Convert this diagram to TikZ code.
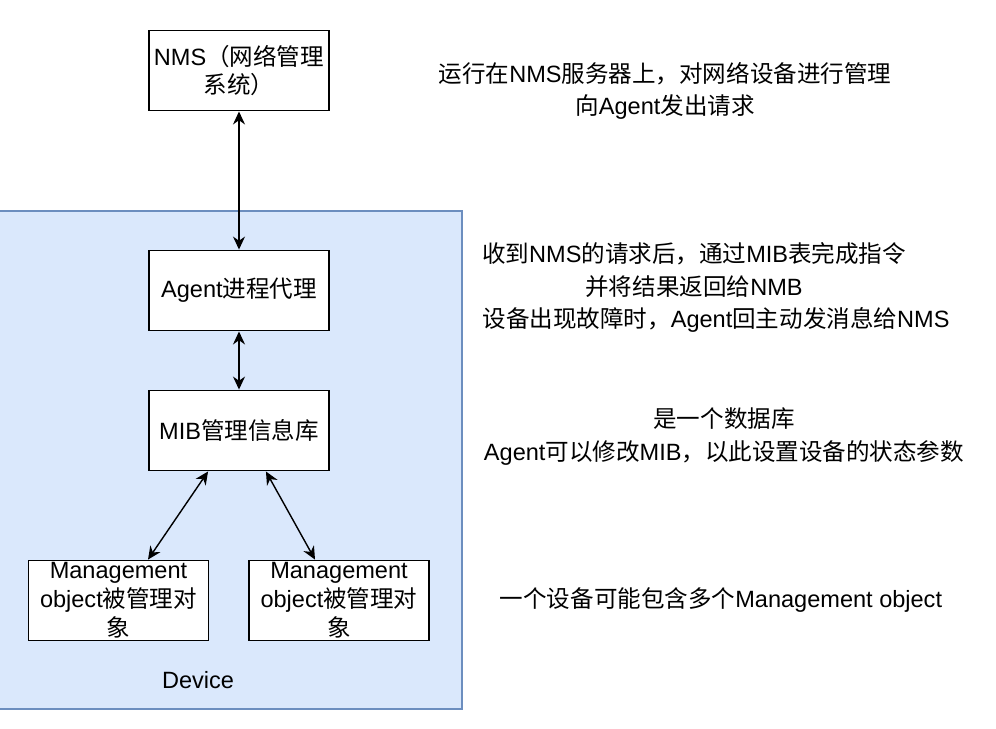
\documentclass[tikz,border=0pt]{standalone}
\usepackage{fontspec}
\setmainfont{Liberation Sans}
\newfontfamily\cjk{Noto Sans CJK SC}
\usetikzlibrary{arrows.meta,calc}
% Chinese runs switch to \cjk on their own
\XeTeXinterchartokenstate=1
\newXeTeXintercharclass\cjkcls
\makeatletter
\def\cjkrange#1#2{\count@=#1 \loop\ifnum\count@<#2 \XeTeXcharclass\count@=\cjkcls \advance\count@ 1 \repeat}
\cjkrange{"3000}{"3040}
\cjkrange{"4E00}{"A000}
\cjkrange{"FF00}{"FFF0}
\makeatother
\XeTeXinterchartoks 0 \cjkcls = {\begingroup\cjk}
\XeTeXinterchartoks 4095 \cjkcls = {\begingroup\cjk}
\XeTeXinterchartoks \cjkcls 0 = {\endgroup}
\XeTeXinterchartoks \cjkcls 4095 = {\endgroup}
\definecolor{grpfill}{HTML}{DAE8FC}
\definecolor{grpline}{HTML}{6C8EBF}
\newcommand{\fz}{\fontsize{13.4}{16.4}\selectfont}
\tikzset{
  box/.style={rectangle,draw=black,fill=white,line width=1.1pt,minimum width=3.6cm,minimum height=1.6cm,inner sep=0pt,align=center,font=\fz},
  grp/.style={draw=grpline,fill=grpfill,line width=1.1pt},
  lnk/.style={{Stealth[length=2.6mm,width=2.4mm]}-{Stealth[length=2.6mm,width=2.4mm]},line width=.8pt,draw=black},
  lb/.style={font=\fz},
  nt/.style={align=center,font=\fontsize{13.4}{18.4}\selectfont,inner sep=0pt},
}

\begin{document}
\begin{tikzpicture}[x=0.02cm,y=-0.02cm]
\useasboundingbox (0,0) rectangle (996,728);
% ---- device
\draw[grp] (-10,211) rectangle (462,709);
\node[lb] (dev) at (198,680) {Device};
% ---- boxes
\node[box] (nms) at (239,70.5) {NMS（网络管理\\系统）};
\node[box] (agent) at (239,290.5) {Agent进程代理};
\node[box] (mib) at (239,430.5) {MIB管理信息库};
\node[box] (mo1) at (118.5,600.5) {Management\\object被管理对\\象};
\node[box] (mo2) at (339,600.5) {Management\\object被管理对\\象};
\draw[lnk] (nms) -- (agent);
\draw[lnk] (agent) -- (mib);
\draw[lnk] ($(mib.south west)+(60,0)$) -- ($(mo1.north)+(29.5,0)$);
\draw[lnk] ($(mib.south east)+(-64,0)$) -- ($(mo2.north)+(-24,0)$);
% ---- notes
\node[nt] (n1) at (665,91) {运行在NMS服务器上，对网络设备进行管理\\向Agent发出请求};
\node[nt] (n2) at (694,270) {收到NMS的请求后，通过MIB表完成指令\\并将结果返回给NMB};
\node[nt] (n3) at (716,320) {设备出现故障时，Agent回主动发消息给NMS};
\node[nt] (n4) at (724,436.5) {是一个数据库\\Agent可以修改MIB，以此设置设备的状态参数};
\node[nt] (n5) at (721,600) {一个设备可能包含多个Management object};
\end{tikzpicture}
\end{document}
